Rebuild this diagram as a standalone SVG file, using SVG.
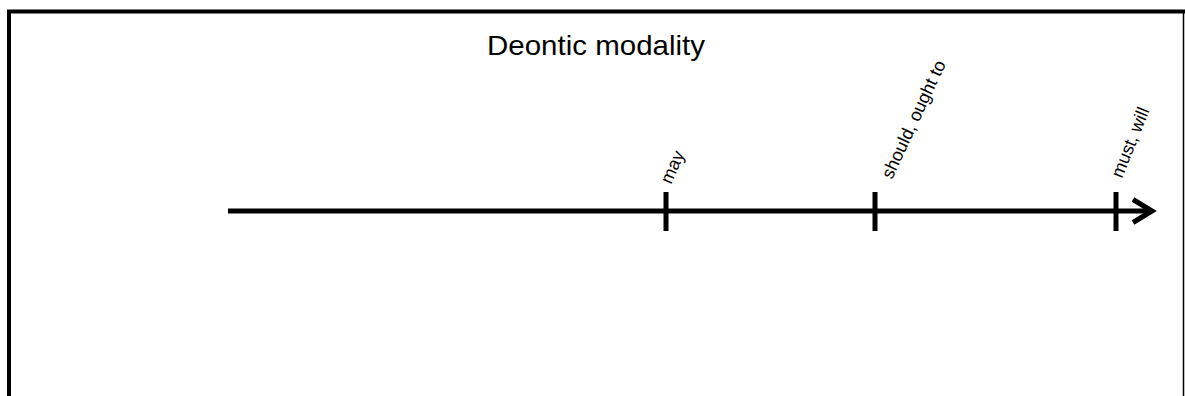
<svg xmlns="http://www.w3.org/2000/svg" width="1185" height="396" viewBox="0 0 1185 396">
  <style>
    .frame { fill: none; stroke: #000; stroke-linecap: square; }
    .axis { fill: none; stroke: #000; stroke-width: 5; }
    .tick { stroke: #000; stroke-width: 5; }
    .title { font-family: "Liberation Sans", Arial, sans-serif; font-size: 28px; fill: #000; }
    .label { font-family: "Liberation Sans", Arial, sans-serif; font-size: 18px; fill: #000; }
  </style>
  <rect width="1185" height="396" fill="#fff"/>

  <!-- outer frame: heavy left/top edges, thin right edge -->
  <g id="frame">
    <polyline class="frame" stroke-width="4" points="9,396 9,11.5 1183,11.5"/>
    <line class="frame" stroke-width="1.5" x1="1183.5" y1="11" x2="1183.5" y2="396"/>
  </g>

  <g id="title">
    <text class="title" x="487" y="55" textLength="218" lengthAdjust="spacingAndGlyphs">Deontic modality</text>
  </g>

  <!-- scale axis with open chevron head -->
  <g id="connectors">
    <line class="axis" x1="228" y1="211" x2="1151" y2="211"/>
    <polyline class="axis" stroke-linejoin="miter" points="1133,199.5 1152,211 1133,222.5"/>
  </g>

  <g id="may">
    <line class="tick" x1="666" y1="192" x2="666" y2="231"/>
    <text class="label" transform="translate(671 185) rotate(-66)">may</text>
  </g>

  <g id="should">
    <line class="tick" x1="875" y1="192" x2="875" y2="231"/>
    <text class="label" transform="translate(892 180) rotate(-65)">should, ought to</text>
  </g>

  <g id="must">
    <line class="tick" x1="1116" y1="192" x2="1116" y2="231"/>
    <text class="label" transform="translate(1122 179) rotate(-68)">must, will</text>
  </g>
</svg>
